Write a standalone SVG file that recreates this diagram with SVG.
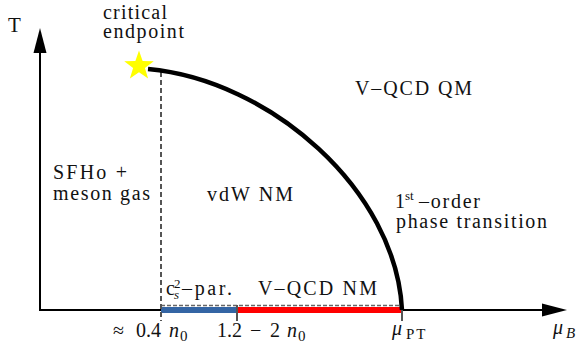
<svg xmlns="http://www.w3.org/2000/svg" width="582" height="346" viewBox="0 0 582 346">
<rect width="582" height="346" fill="#fff"/>
<g id="axes">
<line x1="40" y1="311" x2="40" y2="50" stroke="#000" stroke-width="2"/>
<polygon points="40,28 33.5,53 46.5,53" fill="#000"/>
<line x1="39" y1="310" x2="545" y2="310" stroke="#000" stroke-width="2"/>
<polygon points="567,310 542,303.5 542,316.5" fill="#000"/>
</g>
<g id="bands">
<rect x="161" y="307" width="76" height="6" fill="#3465a4"/>
<rect x="237" y="307" width="165" height="6" fill="#ff0000"/>
<line x1="161" y1="305.5" x2="402" y2="305.5" stroke="#666" stroke-width="1.5" stroke-dasharray="4 2"/>
<line x1="237" y1="305" x2="237" y2="321" stroke="#555" stroke-width="2"/>
<line x1="402" y1="310" x2="402" y2="321" stroke="#555" stroke-width="2"/>
</g>
<g id="connectors">
<line x1="161" y1="72" x2="161" y2="321" stroke="#555" stroke-width="2" stroke-dasharray="5 3"/>
<path d="M148,69 C270,80 396,190 402,310" fill="none" stroke="#000" stroke-width="4.5"/>
</g>
<g id="endpoint">
<polygon points="139,50.5 142.64,60.98 153.74,61.21 144.9,67.92 148.11,78.54 139,72.2 129.89,78.54 133.1,67.92 124.26,61.21 135.36,60.98" fill="#ffff00"/>
</g>
<text font-family="Liberation Serif" font-size="21" fill="#111" x="8" y="32">T</text>
<text font-family="Liberation Serif" font-size="20" fill="#111" x="103" y="19" textLength="64">critical</text>
<text font-family="Liberation Serif" font-size="20" fill="#111" x="103" y="38" textLength="81">endpoint</text>
<text font-family="Liberation Serif" font-size="20" fill="#111" x="355" y="95" textLength="117">V–QCD QM</text>
<text font-family="Liberation Serif" font-size="20" fill="#111" x="53" y="179" textLength="74">SFHo +</text>
<text font-family="Liberation Serif" font-size="20" fill="#111" x="53" y="200" textLength="97">meson gas</text>
<text font-family="Liberation Serif" font-size="20" fill="#111" x="207" y="201" textLength="86">vdW NM</text>
<text font-family="Liberation Serif" font-size="20" fill="#111" y="208"><tspan x="395">1</tspan><tspan x="405" y="200" font-size="13">st</tspan><tspan x="419" y="208" textLength="61">–order</tspan></text>
<text font-family="Liberation Serif" font-size="20" fill="#111" x="396" y="228" textLength="151">phase transition</text>
<text font-family="Liberation Serif" font-size="20" fill="#111" y="295"><tspan x="166">c</tspan><tspan x="174" y="288" font-size="13">2</tspan><tspan x="174" y="299" font-size="13" font-style="italic">s</tspan><tspan x="182" y="295" textLength="50">–par.</tspan></text>
<text font-family="Liberation Serif" font-size="20" fill="#111" x="258" y="295" textLength="119">V–QCD NM</text>
<text font-family="Liberation Serif" font-size="20" fill="#111" y="337"><tspan x="113">≈</tspan><tspan x="136">0.4</tspan><tspan x="169" font-style="italic">n</tspan><tspan x="180" y="341" font-size="15">0</tspan></text>
<text font-family="Liberation Serif" font-size="20" fill="#111" y="337"><tspan x="217">1.2</tspan><tspan x="250">−</tspan><tspan x="270">2</tspan><tspan x="287" font-style="italic">n</tspan><tspan x="298" y="341" font-size="15">0</tspan></text>
<text font-family="Liberation Serif" font-size="20" fill="#111" y="335"><tspan x="392" font-style="italic">μ</tspan><tspan x="406" y="339" font-size="15" letter-spacing="2">PT</tspan></text>
<text font-family="Liberation Serif" font-size="20" fill="#111" y="334"><tspan x="553" font-style="italic">μ</tspan><tspan x="566" y="338" font-size="15" font-style="italic">B</tspan></text>
</svg>
